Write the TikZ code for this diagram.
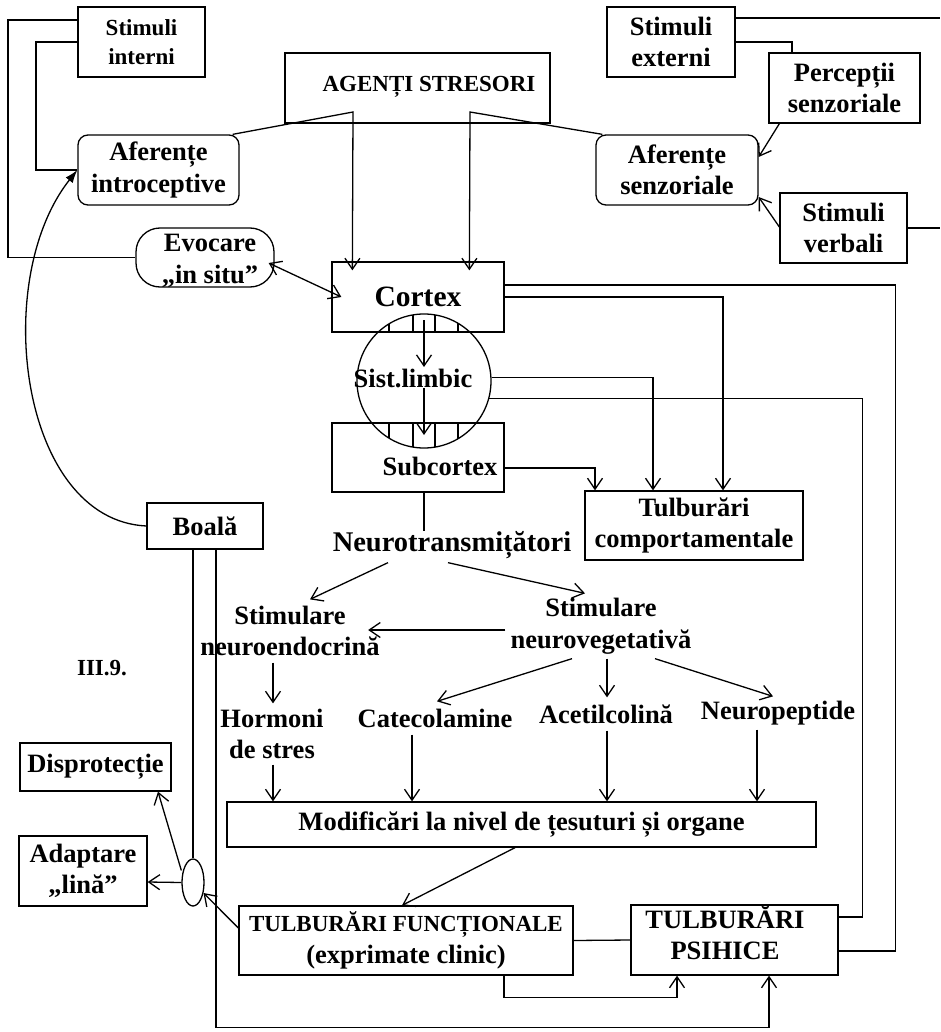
\documentclass[tikz,border=0pt]{standalone}
\usepackage{fontspec}
\setmainfont{Liberation Serif}
\usetikzlibrary{arrows.meta,shapes.geometric}
\newcommand\fA{\fontsize{26.5}{31.5}\selectfont\bfseries}
\newcommand\fB{\fontsize{23}{29}\selectfont\bfseries}
\newcommand\fC{\fontsize{29.5}{34}\selectfont\bfseries}
\newcommand\fD{\fontsize{28.5}{34}\selectfont\bfseries}
\tikzset{
  box/.style={draw, inner sep=0pt, align=center, font=\fA},
  rbox/.style={box, rounded corners=10pt},
  txt/.style={inner sep=0pt, align=center, font=\fA},
  arr/.style={-{Straight Barb[length=11pt,width=15pt]}},
  arrb/.style={{Straight Barb[length=11pt,width=15pt]}-{Straight Barb[length=11pt,width=15pt]}},
}
\begin{document}
\begin{tikzpicture}[x=1pt,y=-1pt,line width=1.3pt]
\useasboundingbox[fill=white] (0,0) rectangle (940,1032);
% top
\node[box, font=\fB, minimum width=127pt, minimum height=70pt] (sint) at (141.5,42) {Stimuli\\interni};
\node[box, minimum width=265pt, minimum height=70pt] (agenti) at (417.5,88) {};
\node[txt, font=\fB] (agtxt) at (429,87) {AGENȚI STRESORI};
\node[box, minimum width=128pt, minimum height=70pt] (sext) at (671,42) {Stimuli\\externi};
\node[box, minimum width=151pt, minimum height=70pt] (perc) at (844.5,88) {Percepții\\senzoriale};
\node[box, minimum width=127pt, minimum height=70pt] (sverb) at (843.5,228) {Stimuli\\verbali};
\node[rbox, minimum width=161pt, minimum height=70pt] (afint) at (158.5,170) {Aferențe\\introceptive};
\node[rbox, minimum width=162pt, minimum height=70pt] (afsen) at (677,170) {Aferențe\\senzoriale};
\node[draw, rounded corners=24pt, minimum width=138pt, minimum height=59pt, inner sep=0pt] (evoc) at (205,257.5) {};
\node[txt] (evtxt) at (210,261) {Evocare\\„in situ”};
% brain
\node[box, font=\fC, minimum width=172pt, minimum height=70pt] (cortex) at (418,297) {Cortex};
\node[draw, circle, minimum size=134pt, inner sep=0pt] (limbic) at (424,381) {};
\node[txt] (limtxt) at (413,378) {Sist.limbic};
\node[box, minimum width=172pt, minimum height=69pt] (subc) at (418,457.5) {};
\node[txt] (subtxt) at (440,466) {Subcortex};
\begin{scope}
  \clip (limbic.center) circle[radius=67pt];
  \foreach \hx in {389,413,435,458} {
    \draw (\hx,262) -- (\hx,332);
    \draw (\hx,423) -- (\hx,492);
  }
\end{scope}
\node[box, minimum width=218pt, minimum height=69pt] (tcomp) at (694,525.5) {Tulburări\\comportamentale};
\node[txt, font=\fD, minimum width=252pt, minimum height=34pt] (neurot) at (452,545) {Neurotransmițători};
\node[txt, minimum width=185pt, minimum height=62pt] (sneuroe) at (290,631) {Stimulare\\neuroendocrină};
\node[txt, minimum width=190pt, minimum height=64pt] (sneurov) at (601,626) {Stimulare\\neurovegetativă};
\node[txt, minimum width=105pt, minimum height=60pt] (hormoni) at (272,734) {Hormoni\\de stres};
\node[txt, minimum height=32pt] (catec) at (435,718) {Catecolamine};
\node[txt, minimum height=32pt] (acetil) at (606,714) {Acetilcolină};
\node[txt, minimum height=32pt] (neurop) at (778,713) {Neuropeptide};
\node[box, minimum width=589pt, minimum height=45pt] (modif) at (521.5,824.5) {Modificări la nivel de țesuturi și organe};
\node[box, minimum width=334pt, minimum height=69pt] (tfunc) at (406,940.5) {{\fB TULBURĂRI FUNCȚIONALE}\\(exprimate clinic)};
\node[box, minimum width=207pt, minimum height=70pt] (tpsih) at (734.5,940) {};
\node[txt] (psitxt) at (725,932.5) {TULBURĂRI\\PSIHICE};
\node[box, minimum width=116pt, minimum height=46pt] (boala) at (205,526) {Boală};
\node[draw, ellipse, minimum width=22pt, minimum height=47pt, inner sep=0pt] (ell) at (193,882.5) {};
\node[box, minimum width=151pt, minimum height=48pt] (dispr) at (95.5,767) {Disprotecție};
\node[box, minimum width=128pt, minimum height=70pt] (adapt) at (83,871) {Adaptare\\„lină”};
\node[txt, font=\fB] (fig) at (102,668) {III.9.};
% connectors top
\draw ([yshift=22pt]sint.west) -| (8,257.5) -- (evoc.west);
\draw (sint.west) -| (36,170) -- (afint.west);
\draw[arr] ([xshift=-7pt]afint.north east) -- (353,112) -- ([shift={(21pt,-9pt)}]cortex.north west);
\draw[arr] ([xshift=7pt]afsen.north west) -- (470,112) -- ([shift={(138pt,-9pt)}]cortex.north west);
\draw[arrb] ([shift={(-6pt,-5.5pt)}]evoc.east) -- ([xshift=10pt]cortex.west);
\draw[arr] ([xshift=11pt]perc.south west) -- ([yshift=13pt]afsen.east);
\draw[arr] ([yshift=1pt]sverb.west) -- ([yshift=-27pt]afsen.east);
\draw ([yshift=24pt]sext.east) -- (940,18);
\draw (sext.east) -| ([xshift=-52.5pt]perc.north);
\draw (sverb.east) -- (940,228);
% right side
\draw ([yshift=12pt]cortex.east) -| ([shift={(57pt,-11pt)}]tpsih.east) -- ([yshift=-11pt]tpsih.east);
\draw[arr] (cortex.east) -| ([xshift=29pt]tcomp.north);
\draw[arr] (limbic.3) -| ([xshift=-41pt]tcomp.north);
\draw (limbic.-15.6) -| ([shift={(24pt,23pt)}]tpsih.east) -- ([yshift=23pt]tpsih.east);
\draw[arr] ([yshift=-10.5pt]subc.east) -| ([xshift=-99pt]tcomp.north);
\draw[arr] ([yshift=61pt]limbic.center) -- ([yshift=14pt]limbic.center);
\draw[arr] ([yshift=-7pt]limbic.center) -- ([yshift=-54pt]limbic.center);
% middle
\draw ([xshift=6pt]subc.south) -- ([xshift=-28pt,yshift=-4pt]neurot.north);
\draw[arr] ([xshift=-64pt]neurot.south) -- ([xshift=20pt]sneuroe.north);
\draw[arr] ([xshift=-4pt]neurot.south) -- ([xshift=-16pt]sneurov.north);
\draw[arr] ([yshift=-4pt]sneurov.west) -- ([shift={(-15pt,1pt)}]sneuroe.east);
\draw[arr] ([xshift=-17pt]sneuroe.south) -- ([xshift=1pt]hormoni.north);
\draw[arr] ([xshift=-29pt]sneurov.south) -- ([xshift=2pt]catec.north);
\draw[arr] ([xshift=6pt]sneurov.south) -- ([xshift=1pt]acetil.north);
\draw[arr] ([xshift=54pt]sneurov.south) -- ([xshift=-5pt]neurop.north);
\draw[arr] ([xshift=1pt]hormoni.south) -- ([xshift=-248.5pt]modif.north);
\draw[arr] ([xshift=-23pt]catec.south) -- ([xshift=-109.5pt]modif.north);
\draw[arr] ([xshift=1pt]acetil.south) -- ([xshift=85.5pt]modif.north);
\draw[arr] ([xshift=-21pt]neurop.south) -- ([xshift=235.5pt]modif.north);
% bottom
\draw[arr] ([xshift=-6.5pt]modif.south) -- ([xshift=-4pt]tfunc.north);
\draw (tfunc.east) -- (tpsih.west);
\draw[arr] ([xshift=98pt]tfunc.south) -- ++(0,22) -| ([xshift=-57.5pt]tpsih.south);
\draw[arr] ([xshift=11pt]boala.south) -- ++(0,478) -| ([xshift=34.5pt]tpsih.south);
\draw ([xshift=-12pt]boala.south) -- (ell.north);
\draw[arr] ([yshift=12pt]ell.west) -- ([xshift=62.5pt]dispr.south);
\draw[arr] (ell.west) -- ([yshift=-11pt]adapt.east);
\draw[arr] ([yshift=12.5pt]tfunc.west) -- (ell.-45);
\draw[-{Latex[length=13pt,width=9pt]}] (boala.west) .. controls (20,520) and (-10,280) .. (afint.west);
\end{tikzpicture}
\end{document}
